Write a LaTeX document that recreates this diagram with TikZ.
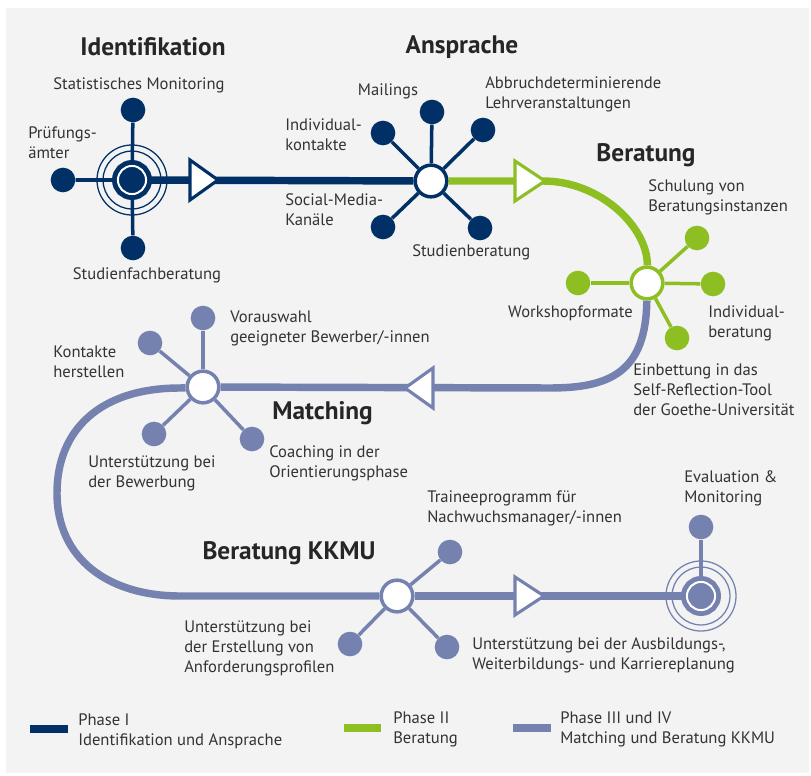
\documentclass[tikz,border=0pt]{standalone}
\usepackage{fontspec}
\setmainfont{PT Sans}
\definecolor{navy}{RGB}{0,48,102}
\definecolor{lime}{RGB}{141,190,34}
\definecolor{lilac}{RGB}{117,130,176}
\definecolor{panel}{RGB}{243,243,243}
\definecolor{txt}{RGB}{51,51,51}
\begin{document}
\begin{tikzpicture}[x=0.025cm,y=-0.025cm,
  hub/.style={circle,draw=#1,fill=white,line width=2.5pt,minimum size=22.5pt,inner sep=0pt},
  target/.style={circle,fill=#1,draw=#1,double=white,double distance=1.4pt,line width=3.5pt,minimum size=20pt,inner sep=0pt},
  dot/.style={circle,fill=#1,minimum size=17.5pt,inner sep=0pt},
  spoke/.style={#1,line width=2.5pt},
  track/.style={#1,line width=5.3pt},
  ring/.style={#1,line width=0.9pt},
  tri/.style={draw=#1,fill=white,line width=2.2pt,line join=miter},
  lbl/.style={font=\fontsize{11.8}{14.2}\selectfont,text=txt,align=left,inner sep=0pt},
  ttl/.style={font=\fontsize{18}{20}\selectfont\bfseries,text=black!85,inner sep=0pt}]
\useasboundingbox (0,0) rectangle (811,776);
\fill[panel] (6,8) rectangle (809,773);

\node[target=navy] (ident) at (132,180) {};
\node[dot=navy] (identTop) at (133,110) {};
\node[dot=navy] (identLeft) at (63,180) {};
\node[dot=navy] (identBot) at (133,248) {};
\draw[ring=navy] (ident) circle[radius=20.6pt] (ident) circle[radius=24.9pt];
\draw[spoke=navy] (ident) -- (identTop) (ident) -- (identLeft) (ident) -- (identBot);

\node[hub=navy] (ans) at (431,181) {};
\node[dot=navy] (ansMail) at (432,112) {};
\node[dot=navy] (ansLehr) at (483,130) {};
\node[dot=navy] (ansStud) at (480,228) {};
\node[dot=navy] (ansInd) at (383,133) {};
\node[dot=navy] (ansSoc) at (383,227) {};
\foreach \d in {ansMail,ansLehr,ansStud,ansInd,ansSoc}
  \draw[spoke=navy] (ans) -- (\d);

\node[hub=lime] (ber) at (647,283) {};
\node[dot=lime] (berSchul) at (697,238) {};
\node[dot=lime] (berInd) at (713,284) {};
\node[dot=lime] (berWork) at (578,283) {};
\node[dot=lime] (berEinb) at (677,338) {};
\foreach \d in {berSchul,berInd,berWork,berEinb}
  \draw[spoke=lime] (ber) -- (\d);

\node[hub=lilac] (match) at (203,387) {};
\node[dot=lilac] (matchVor) at (203,318) {};
\node[dot=lilac] (matchKon) at (150,343) {};
\node[dot=lilac] (matchUnt) at (154,434) {};
\node[dot=lilac] (matchCoach) at (252,439) {};
\foreach \d in {matchVor,matchKon,matchUnt,matchCoach}
  \draw[spoke=lilac] (match) -- (\d);

\node[hub=lilac] (kkmu) at (397,596) {};
\node[dot=lilac] (kkmuTrain) at (450,552) {};
\node[dot=lilac] (kkmuAnf) at (350,644) {};
\node[dot=lilac] (kkmuAusb) at (447,647) {};
\foreach \d in {kkmuTrain,kkmuAnf,kkmuAusb}
  \draw[spoke=lilac] (kkmu) -- (\d);

\node[target=lilac] (eval) at (701,596) {};
\node[dot=lilac] (evalTop) at (701,527) {};
\draw[ring=lilac] (eval) circle[radius=20.6pt] (eval) circle[radius=24.9pt];
\draw[spoke=lilac] (eval) -- (evalTop);

\draw[track=navy] (ident) -- (ans);
\draw[track=lime] (ans) -- (543,181) .. controls (601,181) and (648,228) .. (ber);
\draw[track=lilac] (ber) .. controls (646,372) and (610,388) .. (550,388) -- (match);
\draw[track=lilac] (match) -- (180,388) .. controls (100,388) and (57,430) .. (57,493)
  .. controls (57,560) and (110,596) .. (180,596) -- (kkmu);
\draw[track=lilac] (kkmu) -- (eval);

\draw[tri=navy] (190,160) -- (218,180) -- (190,200) -- cycle;
\draw[tri=lime] (515,161) -- (545,181) -- (515,201) -- cycle;
\draw[tri=lilac] (433,368) -- (405,388) -- (433,408) -- cycle;
\draw[tri=lilac] (515,577) -- (544,596) -- (515,615) -- cycle;

\node[ttl] (tIdent) at (153,47) {Identifikation};
\node[ttl] (tAns) at (462,47) {Ansprache};
\node[ttl] (tBer) at (646,155) {Beratung};
\node[ttl,anchor=west] (tMatch) at (272,413) {Matching};
\node[ttl] (tKkmu) at (289,553) {Beratung KKMU};

\node[lbl] (lStat) at (139,85) {Statistisches Monitoring};
\node[lbl,anchor=west] (lPruef) at (28,143) {Prüfungs-\\ämter};
\node[lbl] (lFach) at (147,275) {Studienfachberatung};
\node[lbl] (lMail) at (388,91) {Mailings};
\node[lbl,anchor=west] (lLehr) at (485,94) {Abbruchdeterminierende\\Lehrveranstaltungen};
\node[lbl,anchor=west] (lInd) at (285,135) {Individual-\\kontakte};
\node[lbl,anchor=west] (lSoc) at (285,210) {Social-Media-\\Kanäle};
\node[lbl,anchor=west] (lStud) at (412,252) {Studienberatung};
\node[lbl,anchor=west] (lSchul) at (648,197) {Schulung von\\Beratungsinstanzen};
\node[lbl,anchor=east] (lWork) at (633,313) {Workshopformate};
\node[lbl,anchor=west] (lIndB) at (708,323) {Individual-\\beratung};
\node[lbl,anchor=west] (lEinb) at (633,390) {Einbettung in das\\Self-Reflection-Tool\\der Goethe-Universität};
\node[lbl,anchor=west] (lVor) at (230,328) {Vorauswahl\\geeigneter Bewerber/-innen};
\node[lbl,anchor=west] (lKon) at (53,362) {Kontakte\\herstellen};
\node[lbl,anchor=west] (lUnt) at (88,473) {Unterstützung bei\\der Bewerbung};
\node[lbl,anchor=west] (lCoach) at (269,463) {Coaching in der\\Orientierungsphase};
\node[lbl,anchor=west] (lTrain) at (427,508) {Traineeprogramm für\\Nachwuchsmanager/-innen};
\node[lbl,anchor=west] (lEval) at (684,488) {Evaluation \&\\Monitoring};
\node[lbl,anchor=west] (lAnf) at (184,648) {Unterstützung bei\\der Erstellung von\\Anforderungsprofilen};
\node[lbl,anchor=west] (lAusb) at (472,655) {Unterstützung bei der Ausbildungs-,\\Weiterbildungs- und Karriereplanung};

\draw[navy,line width=5.7pt] (30,729) -- (68,729);
\draw[lime,line width=5.7pt] (344,728) -- (381,728);
\draw[lilac,line width=5.7pt] (513,728) -- (551,728);
\node[lbl,anchor=west] (legI) at (78,731) {Phase I\\Identifikation und Ansprache};
\node[lbl,anchor=west] (legII) at (393,729) {Phase II\\Beratung};
\node[lbl,anchor=west] (legIII) at (560,729) {Phase III und IV\\Matching und Beratung KKMU};
\end{tikzpicture}
\end{document}
